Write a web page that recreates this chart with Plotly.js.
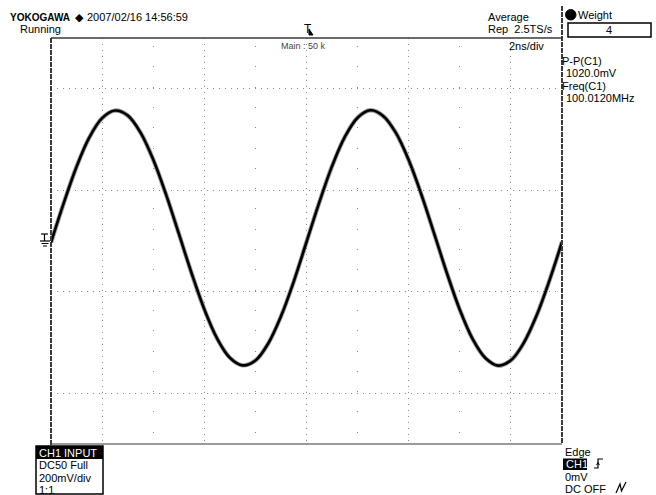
<!DOCTYPE html>
<html>
<head>
<meta charset="utf-8">
<script src="https://cdn.plot.ly/plotly-3.0.1.min.js"></script>
<style>
html,body{margin:0;padding:0;background:#fff;}
#chart{width:656px;height:495px;}
</style>
</head>
<body>
<div id="chart"></div>
<script>
// ---- data read from the screen capture ----
// time axis (ns), trigger at 0, 2 ns/div, 10 divisions
const timeNs = [-10,-9.5,-9,-8.5,-8,-7.5,-7,-6.5,-6,-5.5,-5,-4.5,-4,-3.5,-3,-2.5,-2,-1.5,-1,-0.5,
                0,0.5,1,1.5,2,2.5,3,3.5,4,4.5,5,5.5,6,6.5,7,7.5,8,8.5,9,9.5,10];
// CH1 voltage (mV), 200 mV/div, 8 divisions
const ch1mV = [-6,150,293,408,484,514,495,428,321,184,30,-126,-269,-384,-460,-490,-471,-404,-297,-160,
               -4,152,295,410,486,515,493,426,319,182,28,-128,-271,-386,-461,-491,-470,-402,-295,-158,-4];

const headerTexts = ["YOKOGAWA", "\u25C6", "2007/02/16 14:56:59", "Running"];
const acqTexts = ["Average", "Rep  2.5TS/s", "2ns/div", "Main : 50 k"];
const measLabels = ["P-P(C1)", "Freq(C1)"];
const measValues = ["1020.0mV", "100.0120MHz"];
const weightLabel = "Weight";
const weightValue = "4";
const ch1Lines = ["CH1 INPUT", "DC50 Full", "200mV/div", "1:1"];
const trigLines = ["Edge", "CH1", "0mV", "DC OFF"];

// ---- layout helpers (pixel -> paper) ----
const L = 51, R = 562, T = 38, B = 444;
const W = R - L, H = B - T;
const px = v => (v - L) / W;
const py = v => (B - v) / H;
const FONT = "Liberation Sans, Arial, sans-serif";

function txt(text, x, y, o) {
  o = o || {};
  return {
    xref: 'paper', yref: 'paper', x: px(x), y: py(y),
    xanchor: o.xa || 'left', yanchor: 'middle', showarrow: false,
    text: text, borderpad: 0,
    font: {family: o.family || FONT, size: o.size || 11, color: o.color || '#000', weight: o.weight || 'normal'}
  };
}
function rect(x0, y0, x1, y1, o) {
  o = o || {};
  return {type: 'rect', xref: 'paper', yref: 'paper', x0: px(x0), x1: px(x1), y0: py(y0), y1: py(y1),
          line: {color: o.lc || '#000', width: o.lw === undefined ? 1 : o.lw}, fillcolor: o.fill || 'rgba(0,0,0,0)', layer: 'above'};
}
function line(x0, y0, x1, y1, o) {
  o = o || {};
  return {type: 'line', xref: 'paper', yref: 'paper', x0: px(x0), x1: px(x1), y0: py(y0), y1: py(y1),
          line: {color: o.c || '#000', width: o.w || 1, dash: o.dash || 'solid'}, layer: 'above'};
}
function path(pts, o) {
  o = o || {};
  const d = pts.map((p, i) => (i ? 'L' : 'M') + px(p[0]).toFixed(5) + ',' + py(p[1]).toFixed(5)).join(' ') + (o.close ? ' Z' : '');
  return {type: 'path', xref: 'paper', yref: 'paper', path: d,
          line: {color: o.c || '#000', width: o.w || 1}, fillcolor: o.fill || 'rgba(0,0,0,0)', layer: 'above'};
}

const traces = [
  {x: timeNs, y: ch1mV, type: 'scatter', mode: 'lines', line: {color: '#7a7a7a', width: 4.4, shape: 'spline', smoothing: 1},
   opacity: 0.75, hoverinfo: 'skip', showlegend: false},
  {x: timeNs, y: ch1mV, type: 'scatter', mode: 'lines', line: {color: '#000', width: 2.6, shape: 'spline', smoothing: 1},
   hoverinfo: 'skip', showlegend: false}
];

const annotations = [
  txt(headerTexts[0], 9, 17, {size: 10, weight: 'bold'}),
  txt(headerTexts[1], 74, 17, {size: 11}),
  txt(headerTexts[2], 86, 17),
  txt(headerTexts[3], 19, 29),
  txt(acqTexts[0], 487, 17),
  txt(acqTexts[1], 487, 29),
  txt(acqTexts[2], 508, 46),
  txt(acqTexts[3], 280, 46, {size: 9, color: '#444'}),
  txt("T", 303, 29, {size: 12}),
  txt(weightLabel, 577, 15),
  txt(weightValue, 609, 30, {xa: 'center'}),
  txt(measLabels[0], 561, 61),
  txt(measValues[0], 565, 73),
  txt(measLabels[1], 561, 86),
  txt(measValues[1], 565, 98),
  txt(ch1Lines[0], 38, 452.5, {color: '#fff'}),
  txt(ch1Lines[1], 38, 465),
  txt(ch1Lines[2], 38, 478),
  txt(ch1Lines[3], 38, 490),
  txt(trigLines[0], 564, 452),
  txt(trigLines[1], 565, 464, {color: '#fff'}),
  txt(trigLines[2], 564, 477),
  txt(trigLines[3], 564, 489)
];

const shapes = [
  // frame
  line(L, T, R, T, {c: '#3a3a3a', w: 1.5}),
  line(L, B, R, B, {c: '#9a9a9a', w: 2}),
  line(L, T, L, B + 2, {c: '#3a3a3a', w: 2, dash: '5px,1px'}),
  line(R, 6, R, B, {c: '#3a3a3a', w: 2, dash: '5px,1px'}),
  // weight box + dot
  {type: 'circle', xref: 'paper', yref: 'paper', x0: px(565.5), x1: px(576), y0: py(9.5), y1: py(20),
   fillcolor: '#000', line: {color: '#000', width: 1}, layer: 'above'},
  rect(568, 23, 651, 37, {lw: 1.5}),
  // trigger position marker tail
  path([[309, 29], [313, 35], [309, 35]], {close: true, fill: '#000', w: 1}),
  // ground / level marker at left
  line(41, 234, 48, 234, {w: 1.2}),
  line(44.5, 234, 44.5, 241, {w: 1.2}),
  line(40, 241, 50, 241, {w: 1.2}),
  line(41.5, 243.5, 48.5, 243.5, {w: 1}),
  line(43, 246, 47, 246, {w: 1}),
  // CH1 INPUT box
  rect(36, 446, 103, 494, {lw: 1.5}),
  rect(36, 446, 103, 459, {lw: 0, fill: '#000'}),
  // trigger CH1 badge
  rect(563, 458.5, 587, 470, {lw: 0, fill: '#000'}),
  // rising edge symbol
  path([[594, 468], [598, 468], [598, 459], [603, 459]], {w: 1.2}),
  path([[596.5, 465], [598, 462.5], [599.5, 465]], {w: 1}),
  // noise-reject squiggle
  path([[616, 493], [620, 484], [621.5, 491], [626, 482]], {w: 1.2})
];

const layout = {
  width: 656, height: 495,
  margin: {l: L, r: 656 - R, t: T, b: 495 - B, pad: 0},
  paper_bgcolor: '#fff', plot_bgcolor: '#fff',
  showlegend: false,
  xaxis: {
    range: [-10, 10], fixedrange: true, showticklabels: false, ticks: '', zeroline: false, showline: false,
    showgrid: true, tick0: 0, dtick: 4, gridcolor: '#8c8c8c', gridwidth: 1, griddash: '1px,5px',
    minor: {tick0: 0, dtick: 2, showgrid: true, gridcolor: '#8c8c8c', gridwidth: 1, griddash: '0px,8px,1px,11.3px', ticks: ''}
  },
  yaxis: {
    range: [-800, 800], fixedrange: true, showticklabels: false, ticks: '', zeroline: false, showline: false,
    showgrid: true, tick0: 200, dtick: 400, gridcolor: '#8c8c8c', gridwidth: 1, griddash: '1px,5px'
  },
  annotations: annotations,
  shapes: shapes
};

Plotly.newPlot('chart', traces, layout, {staticPlot: true, displayModeBar: false});
</script>
</body>
</html>
